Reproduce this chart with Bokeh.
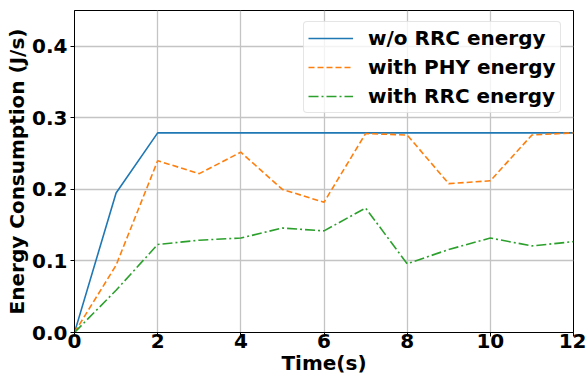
from bokeh.plotting import figure
from bokeh.models import Range1d, Legend, LegendItem, FixedTicker
from bokeh.embed import file_html
from bokeh.resources import INLINE

time_s = [0, 1, 2, 3, 4, 5, 6, 7, 8, 9, 10, 11, 12]
wo_rrc = [0.0, 0.195, 0.279, 0.279, 0.279, 0.279, 0.279, 0.279, 0.279, 0.279, 0.279, 0.279, 0.279]
with_phy = [0.0, 0.094, 0.240, 0.222, 0.252, 0.200, 0.182, 0.278, 0.276, 0.208, 0.212, 0.276, 0.279]
with_rrc = [0.0, 0.059, 0.123, 0.129, 0.132, 0.146, 0.142, 0.174, 0.096, 0.116, 0.132, 0.121, 0.127]
x_ticks = [0, 2, 4, 6, 8, 10, 12]
y_ticks = [0.0, 0.1, 0.2, 0.3, 0.4]
labels = ["w/o RRC energy", "with PHY energy", "with RRC energy"]

FONT = "DejaVu Sans"

p = figure(width=586, height=381, output_backend="svg", toolbar_location=None,
           x_range=Range1d(0, 12), y_range=Range1d(0, 0.45),
           min_border_left=74, min_border_right=13, min_border_top=10, min_border_bottom=49)
p.background_fill_color = "white"
p.border_fill_color = "white"
p.outline_line_color = "black"
p.outline_line_width = 1

for ax in (p.xaxis, p.yaxis):
    ax.major_label_text_font = FONT
    ax.major_label_text_font_style = "bold"
    ax.major_label_text_font_size = "20px"
    ax.major_label_text_color = "black"
    ax.axis_label_text_font = FONT
    ax.axis_label_text_font_style = "bold"
    ax.axis_label_text_font_size = "20px"
    ax.axis_label_text_color = "black"
    ax.axis_line_color = "black"
    ax.major_tick_line_color = "black"
    ax.major_tick_out = 4
    ax.major_tick_in = 0
    ax.minor_tick_line_color = None

p.xaxis.ticker = FixedTicker(ticks=x_ticks)
p.yaxis.ticker = FixedTicker(ticks=y_ticks)
p.yaxis.major_label_overrides = {v: f"{v:.1f}" for v in y_ticks}
p.xaxis.major_label_overrides = {v: str(v) for v in x_ticks}
p.xaxis.axis_label = "Time(s)"
p.yaxis.axis_label = "Energy Consumption (J/s)"
p.xaxis.major_label_standoff = -3
p.xaxis.axis_label_standoff = 0
p.yaxis.major_label_standoff = 3
p.yaxis.axis_label_standoff = 0

p.grid.grid_line_color = "#c4c4c4"
p.grid.grid_line_width = 1.3
p.xgrid.ticker = FixedTicker(ticks=x_ticks)
p.ygrid.ticker = FixedTicker(ticks=y_ticks)

r1 = p.line(time_s, wo_rrc, line_color="#1f77b4", line_width=1.6)
r2 = p.line(time_s, with_phy, line_color="#ff7f0e", line_width=1.6, line_dash="6 3")
r3 = p.line(time_s, with_rrc, line_color="#2ca02c", line_width=1.6, line_dash="10 3 2 3")

legend = Legend(items=[LegendItem(label=labels[0], renderers=[r1]),
                       LegendItem(label=labels[1], renderers=[r2]),
                       LegendItem(label=labels[2], renderers=[r3])],
                location=(229, 219), margin=0, padding=4, spacing=5,
                glyph_width=45, glyph_height=24, label_height=24, label_standoff=15,
                label_text_font=FONT, label_text_font_style="bold",
                label_text_font_size="20px", label_text_color="black",
                border_line_color="#cccccc", border_line_width=1,
                background_fill_color="white", background_fill_alpha=0.8,
                border_radius=4)
p.add_layout(legend)

open("out.html", "w").write(file_html(p, INLINE))
